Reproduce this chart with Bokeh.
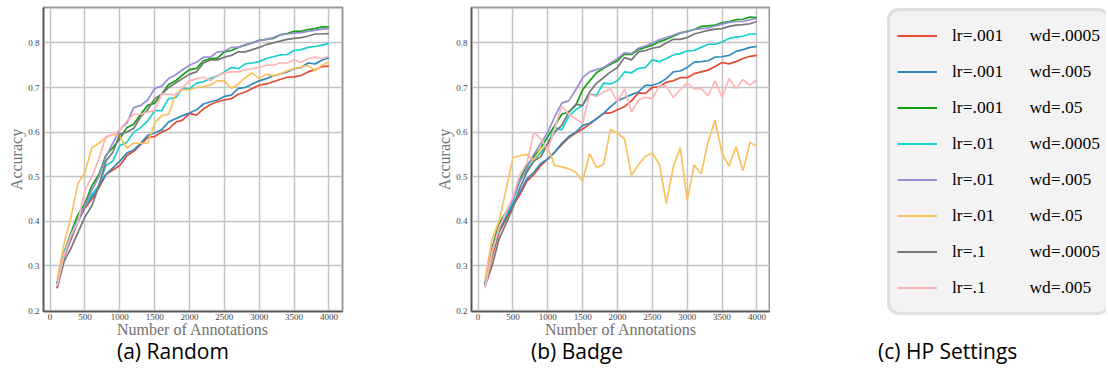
from bokeh.plotting import figure
from bokeh.models import Range1d, FixedTicker, Legend, LegendItem, Div
from bokeh.layouts import row, column
from bokeh.embed import file_html
from bokeh.resources import INLINE

# ---------------- data ----------------
annotations = list(range(100, 4001, 100))
x_ticks = [0, 500, 1000, 1500, 2000, 2500, 3000, 3500, 4000]
y_ticks = [0.2, 0.3, 0.4, 0.5, 0.6, 0.7, 0.8]

lr_labels = ["lr=.001", "lr=.001", "lr=.001", "lr=.01", "lr=.01", "lr=.01", "lr=.1", "lr=.1"]
wd_labels = ["wd=.0005", "wd=.005", "wd=.05", "wd=.0005", "wd=.005", "wd=.05", "wd=.0005", "wd=.005"]
colors = ["#E24A33", "#348ABD", "#13A013", "#17CFCF", "#988ED5", "#FBC15E", "#777777", "#FFB5B8"]
captions = ["(a) Random", "(b) Badge", "(c) HP Settings"]

# (a) Random
random_lr001_wd0005 = [0.25, 0.32, 0.36, 0.40, 0.43, 0.45, 0.475, 0.505, 0.515, 0.525,
                       0.547, 0.557, 0.572, 0.588, 0.59, 0.60, 0.607, 0.622, 0.627, 0.642,
                       0.638, 0.652, 0.662, 0.668, 0.672, 0.675, 0.685, 0.69, 0.698, 0.705,
                       0.708, 0.713, 0.718, 0.723, 0.724, 0.727, 0.735, 0.74, 0.747, 0.748]
random_lr001_wd005 = [0.26, 0.325, 0.365, 0.40, 0.435, 0.455, 0.48, 0.505, 0.52, 0.535,
                      0.553, 0.56, 0.575, 0.593, 0.598, 0.605, 0.623, 0.63, 0.637, 0.643,
                      0.65, 0.663, 0.668, 0.672, 0.68, 0.683, 0.698, 0.70, 0.708, 0.715,
                      0.72, 0.726, 0.73, 0.735, 0.742, 0.745, 0.755, 0.753, 0.761, 0.767]
random_lr001_wd05 = [0.26, 0.33, 0.375, 0.415, 0.44, 0.48, 0.505, 0.548, 0.565, 0.585,
                     0.61, 0.618, 0.64, 0.66, 0.665, 0.685, 0.707, 0.715, 0.728, 0.74,
                     0.743, 0.76, 0.765, 0.766, 0.78, 0.783, 0.79, 0.795, 0.80, 0.806,
                     0.808, 0.81, 0.818, 0.821, 0.826, 0.826, 0.83, 0.832, 0.836, 0.836]
random_lr01_wd0005 = [0.26, 0.33, 0.37, 0.405, 0.435, 0.46, 0.48, 0.525, 0.535, 0.57,
                      0.577, 0.60, 0.61, 0.625, 0.648, 0.648, 0.675, 0.677, 0.698, 0.697,
                      0.71, 0.713, 0.72, 0.726, 0.735, 0.745, 0.742, 0.753, 0.755, 0.758,
                      0.765, 0.769, 0.773, 0.774, 0.783, 0.785, 0.79, 0.792, 0.795, 0.799]
random_lr01_wd005 = [0.26, 0.32, 0.365, 0.40, 0.435, 0.47, 0.50, 0.545, 0.575, 0.605,
                     0.62, 0.655, 0.66, 0.672, 0.698, 0.703, 0.72, 0.728, 0.74, 0.75,
                     0.757, 0.768, 0.768, 0.78, 0.781, 0.79, 0.79, 0.796, 0.80, 0.805,
                     0.808, 0.812, 0.818, 0.82, 0.822, 0.823, 0.826, 0.828, 0.831, 0.832]
random_lr01_wd05 = [0.27, 0.35, 0.41, 0.485, 0.51, 0.565, 0.575, 0.588, 0.595, 0.59,
                    0.565, 0.575, 0.575, 0.575, 0.62, 0.637, 0.64, 0.685, 0.695, 0.695,
                    0.70, 0.702, 0.706, 0.715, 0.715, 0.698, 0.708, 0.722, 0.733, 0.72,
                    0.73, 0.726, 0.73, 0.737, 0.743, 0.746, 0.75, 0.738, 0.75, 0.757]
random_lr1_wd0005 = [0.25, 0.31, 0.34, 0.375, 0.41, 0.435, 0.48, 0.535, 0.555, 0.595,
                     0.60, 0.608, 0.635, 0.65, 0.675, 0.685, 0.70, 0.71, 0.72, 0.73,
                     0.735, 0.755, 0.762, 0.762, 0.768, 0.772, 0.78, 0.78, 0.785, 0.79,
                     0.796, 0.80, 0.804, 0.808, 0.81, 0.812, 0.815, 0.82, 0.82, 0.821]
random_lr1_wd005 = [0.255, 0.325, 0.37, 0.40, 0.47, 0.50, 0.54, 0.59, 0.595, 0.605,
                    0.625, 0.64, 0.64, 0.645, 0.648, 0.685, 0.685, 0.683, 0.70, 0.715,
                    0.72, 0.723, 0.715, 0.726, 0.733, 0.735, 0.735, 0.74, 0.742, 0.745,
                    0.75, 0.75, 0.755, 0.755, 0.762, 0.756, 0.765, 0.768, 0.765, 0.77]

# (b) Badge
badge_lr001_wd0005 = [0.255, 0.32, 0.375, 0.405, 0.435, 0.46, 0.49, 0.505, 0.525, 0.54,
                      0.555, 0.572, 0.587, 0.598, 0.607, 0.618, 0.63, 0.642, 0.643, 0.65,
                      0.657, 0.67, 0.688, 0.687, 0.70, 0.702, 0.712, 0.715, 0.722, 0.722,
                      0.731, 0.735, 0.739, 0.747, 0.756, 0.753, 0.758, 0.765, 0.77, 0.772]
badge_lr001_wd005 = [0.26, 0.33, 0.38, 0.41, 0.44, 0.465, 0.495, 0.51, 0.53, 0.54,
                     0.555, 0.575, 0.59, 0.60, 0.615, 0.62, 0.63, 0.642, 0.657, 0.67,
                     0.677, 0.684, 0.69, 0.705, 0.705, 0.71, 0.72, 0.735, 0.737, 0.745,
                     0.757, 0.758, 0.76, 0.768, 0.769, 0.772, 0.781, 0.785, 0.79, 0.792]
badge_lr001_wd05 = [0.26, 0.34, 0.395, 0.42, 0.45, 0.495, 0.525, 0.545, 0.565, 0.59,
                    0.615, 0.64, 0.645, 0.66, 0.695, 0.715, 0.733, 0.743, 0.752, 0.76,
                    0.775, 0.774, 0.785, 0.79, 0.795, 0.803, 0.808, 0.815, 0.822, 0.826,
                    0.83, 0.837, 0.838, 0.84, 0.845, 0.848, 0.852, 0.853, 0.858, 0.857]
badge_lr01_wd0005 = [0.26, 0.33, 0.385, 0.415, 0.445, 0.49, 0.515, 0.535, 0.555, 0.575,
                     0.61, 0.605, 0.635, 0.65, 0.66, 0.685, 0.683, 0.71, 0.708, 0.715,
                     0.735, 0.733, 0.743, 0.745, 0.762, 0.758, 0.765, 0.773, 0.776, 0.782,
                     0.783, 0.79, 0.797, 0.797, 0.802, 0.81, 0.813, 0.815, 0.82, 0.82]
badge_lr01_wd005 = [0.26, 0.335, 0.385, 0.42, 0.45, 0.49, 0.52, 0.55, 0.575, 0.60,
                    0.635, 0.665, 0.67, 0.695, 0.722, 0.735, 0.74, 0.745, 0.755, 0.765,
                    0.778, 0.776, 0.788, 0.793, 0.80, 0.807, 0.812, 0.817, 0.823, 0.825,
                    0.83, 0.832, 0.833, 0.838, 0.842, 0.846, 0.848, 0.848, 0.852, 0.855]
badge_lr01_wd05 = [0.27, 0.36, 0.40, 0.47, 0.543, 0.547, 0.55, 0.535, 0.565, 0.565,
                   0.525, 0.522, 0.518, 0.51, 0.49, 0.552, 0.52, 0.528, 0.606, 0.598,
                   0.585, 0.503, 0.527, 0.546, 0.553, 0.528, 0.44, 0.522, 0.565, 0.448,
                   0.526, 0.507, 0.578, 0.627, 0.552, 0.524, 0.567, 0.513, 0.577, 0.568]
badge_lr1_wd0005 = [0.255, 0.30, 0.36, 0.395, 0.43, 0.475, 0.51, 0.535, 0.545, 0.575,
                    0.60, 0.615, 0.645, 0.662, 0.66, 0.69, 0.71, 0.722, 0.735, 0.745,
                    0.767, 0.762, 0.78, 0.783, 0.788, 0.791, 0.80, 0.808, 0.808, 0.812,
                    0.82, 0.824, 0.828, 0.831, 0.832, 0.837, 0.84, 0.841, 0.843, 0.848]
badge_lr1_wd005 = [0.25, 0.33, 0.385, 0.42, 0.455, 0.505, 0.53, 0.60, 0.585, 0.56,
                   0.61, 0.658, 0.64, 0.63, 0.62, 0.685, 0.68, 0.69, 0.697, 0.668,
                   0.697, 0.645, 0.672, 0.678, 0.675, 0.705, 0.703, 0.678, 0.695, 0.71,
                   0.697, 0.698, 0.681, 0.715, 0.678, 0.72, 0.698, 0.718, 0.705, 0.718]

random_series = [random_lr001_wd0005, random_lr001_wd005, random_lr001_wd05, random_lr01_wd0005,
                 random_lr01_wd005, random_lr01_wd05, random_lr1_wd0005, random_lr1_wd005]
badge_series = [badge_lr001_wd0005, badge_lr001_wd005, badge_lr001_wd05, badge_lr01_wd0005,
                badge_lr01_wd005, badge_lr01_wd05, badge_lr1_wd0005, badge_lr1_wd005]

SERIF = "Liberation Serif"
FRAME_W, FRAME_H = 299, 304
TOP = 7
P1_W = 43 + FRAME_W + 86
P2_W = 43 + FRAME_W
P3_W = 336


def make_chart(series, left_border, right_gap):
    p = figure(frame_width=FRAME_W, frame_height=FRAME_H,
               x_range=Range1d(-95, 4195), y_range=Range1d(0.1978, 0.8794),
               output_backend="svg", toolbar_location=None,
               min_border_left=left_border, min_border_right=right_gap,
               min_border_top=TOP, min_border_bottom=0)
    p.background_fill_color = "white"
    p.border_fill_color = "white"
    p.outline_line_color = "#9a9a9a"
    p.outline_line_width = 2
    for ys, c in zip(series, colors):
        p.line(annotations, ys, line_color=c, line_width=1.7)
    p.xaxis.ticker = FixedTicker(ticks=x_ticks)
    p.yaxis.ticker = FixedTicker(ticks=y_ticks)
    p.grid.grid_line_color = "#c4c4c4"
    p.grid.grid_line_width = 1.5
    for ax in (p.xaxis, p.yaxis):
        ax.axis_line_color = "#555555"
        ax.axis_line_width = 1.5
        ax.major_tick_out = 0
        ax.major_tick_in = 0
        ax.minor_tick_out = 0
        ax.minor_tick_in = 0
        ax.major_label_text_font = SERIF
        ax.major_label_text_font_size = "9px"
        ax.major_label_text_color = "#444444"
        ax.axis_label_text_font = SERIF
        ax.axis_label_text_font_size = "16px"
        ax.axis_label_text_font_style = "normal"
        ax.axis_label_text_color = "#707070"
    p.xaxis.axis_label = "Number of Annotations"
    p.yaxis.axis_label = "Accuracy"
    p.xaxis.major_label_standoff = 2
    p.xaxis.axis_label_standoff = -2
    p.yaxis.major_label_standoff = 4
    p.yaxis.axis_label_standoff = 0
    return p


p1 = make_chart(random_series, 43, 86)
p2 = make_chart(badge_series, 43, 0)

# (c) legend panel
p3 = figure(frame_width=P3_W, frame_height=334, x_range=Range1d(0, 1), y_range=Range1d(0, 1),
            output_backend="svg", toolbar_location=None,
            x_axis_location=None, y_axis_location=None,
            min_border_left=0, min_border_right=0, min_border_top=TOP, min_border_bottom=0)
p3.outline_line_color = None
p3.background_fill_color = "white"
p3.border_fill_color = "white"
p3.xgrid.grid_line_color = None
p3.ygrid.grid_line_color = None
items = []
for ys, c, lr, wd in zip(random_series, colors, lr_labels, wd_labels):
    r = p3.line(annotations, ys, line_color=c, line_width=2, visible=False)
    pad = "\u00a0" * (6 + 2 * (len(lr_labels[0]) - len(lr)))
    items.append(LegendItem(label=lr + pad + wd, renderers=[r]))
leg = Legend(items=items, location=(117, 26), click_policy="none")
leg.label_text_font = SERIF
leg.label_text_font_size = "17.5px"
leg.label_text_color = "black"
leg.glyph_width = 40
leg.glyph_height = 35
leg.label_height = 35
leg.label_standoff = 15
leg.spacing = 1
leg.padding = 7
leg.margin = 0
leg.border_line_color = "#cccccc"
leg.border_line_width = 3
leg.background_fill_color = "#f3f3f3"
leg.background_fill_alpha = 1.0
try:
    leg.border_radius = 12
except Exception:
    pass
p3.add_layout(leg)


def caption_div(text, width, indent):
    html = ('<div style="padding-left:%dpx; font-family:\'Open Sans\'; font-size:21px; '
            'line-height:22px; color:#000; white-space:nowrap; margin-top:-1px;">%s</div>'
            % (indent, text))
    return Div(text=html, width=width, height=26, margin=(0, 0, 0, 0))


caps = row(caption_div(captions[0], P1_W, 117),
           caption_div(captions[1], P2_W, 103),
           caption_div(captions[2], P3_W, 108))

layout = column(row(p1, p2, p3), caps)
open("out.html", "w").write(file_html(layout, INLINE))
